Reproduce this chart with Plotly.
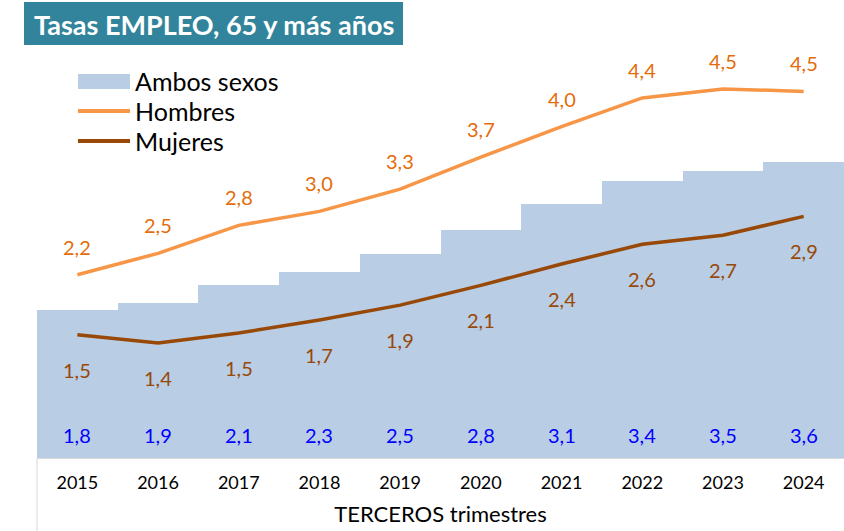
import plotly.graph_objects as go

# data (values as shown, positions estimated from the chart)
years = ['2015', '2016', '2017', '2018', '2019', '2020', '2021', '2022', '2023', '2024']
ambos = [1.80, 1.89, 2.10, 2.26, 2.48, 2.77, 3.09, 3.37, 3.49, 3.60]
hombres = [2.23, 2.49, 2.83, 3.00, 3.27, 3.66, 4.03, 4.38, 4.49, 4.46]
mujeres = [1.50, 1.40, 1.52, 1.68, 1.86, 2.10, 2.36, 2.60, 2.71, 2.94]

title_text = 'Tasas EMPLEO, 65 y más años'
x_title = 'TERCEROS trimestres'
legend_names = ['Ambos sexos', 'Hombres', 'Mujeres']

FONT = 'Lato'
C_BAR = '#B9CDE5'
C_HOM = '#F79646'
C_HOM_TXT = '#E46C0A'
C_MUJ = '#984807'
C_AMB_TXT = '#0000FF'
C_TITLE = '#31849B'

W, H = 844, 531
ML, MR, MT, MB = 37, 0, 0, 73
PLOT_W = W - ML - MR
PLOT_H = H - MT - MB
PX_PER_UNIT = 82.2


def px(x):
    return (x - ML) / PLOT_W


def py(y):
    return (H - MB - y) / PLOT_H


def fmt(v):
    return f'{v:.1f}'.replace('.', ',')


fig = go.Figure()
fig.add_trace(go.Bar(x=years, y=ambos, marker=dict(color=C_BAR, line_width=0),
                     name=legend_names[0], hoverinfo='skip'))
fig.add_trace(go.Scatter(x=years, y=hombres, mode='lines', name=legend_names[1],
                         line=dict(color=C_HOM, width=3.5)))
fig.add_trace(go.Scatter(x=years, y=mujeres, mode='lines', name=legend_names[2],
                         line=dict(color=C_MUJ, width=3.5)))

# value labels; x is the category index on the category axis
annotations = []
for i, (a, h, m) in enumerate(zip(ambos, hombres, mujeres)):
    annotations.append(dict(x=i, y=h, text=fmt(h), showarrow=False, yshift=28,
                            font=dict(family=FONT, size=20, color=C_HOM_TXT)))
    annotations.append(dict(x=i, y=m, text=fmt(m), showarrow=False, yshift=-35,
                            font=dict(family=FONT, size=20, color=C_MUJ)))
    annotations.append(dict(x=i, y=0, text=fmt(a), showarrow=False, yshift=23,
                            font=dict(family=FONT, size=20, color=C_AMB_TXT)))

shapes = [
    # title box
    dict(type='rect', xref='paper', yref='paper', x0=px(24), x1=px(403), y0=py(45), y1=py(2),
         fillcolor=C_TITLE, line_width=0, layer='above'),
    # left border below the axis
    dict(type='line', xref='paper', yref='paper', x0=0, x1=0, y0=0, y1=py(H),
         line=dict(color='#D9D9D9', width=1)),
    # legend swatches
    dict(type='rect', xref='paper', yref='paper', x0=px(78), x1=px(130), y0=py(89), y1=py(74),
         fillcolor=C_BAR, line_width=0, layer='above'),
    dict(type='line', xref='paper', yref='paper', x0=px(78), x1=px(130), y0=py(111), y1=py(111),
         line=dict(color=C_HOM, width=4), layer='above'),
    dict(type='line', xref='paper', yref='paper', x0=px(78), x1=px(130), y0=py(141), y1=py(141),
         line=dict(color=C_MUJ, width=4), layer='above'),
]
annotations.append(dict(xref='paper', yref='paper', x=px(213.5), y=py(24), text=f'<b>{title_text}</b>',
                        showarrow=False, xanchor='center', yanchor='middle',
                        font=dict(family=FONT, size=27, color='white')))
for name, ypix in zip(legend_names, [81, 111, 141]):
    annotations.append(dict(xref='paper', yref='paper', x=px(133), y=py(ypix), text=name,
                            showarrow=False, xanchor='left', yanchor='middle',
                            font=dict(family=FONT, size=25, color='black')))

fig.update_layout(
    width=W, height=H,
    margin=dict(l=ML, r=MR, t=MT, b=MB, autoexpand=False),
    plot_bgcolor='white', paper_bgcolor='white',
    bargap=0, showlegend=False,
    font=dict(family=FONT, color='black'),
    xaxis=dict(type='category', range=[-0.5, len(years) - 0.5],
               showline=True, linecolor='#D9D9D9', linewidth=1,
               ticks='outside', ticklen=8, tickcolor='rgba(0,0,0,0)',
               tickfont=dict(family=FONT, size=18, color='black'),
               title=dict(text=x_title, standoff=15, font=dict(family=FONT, size=22, color='black')),
               showgrid=False, fixedrange=True),
    yaxis=dict(range=[0, PLOT_H / PX_PER_UNIT], visible=False, fixedrange=True),
    shapes=shapes, annotations=annotations,
)

# drop the page's default body margin so the figure fills the window
fig.write_html('out.html', config={'displayModeBar': False},
               post_script="document.body.style.margin='0';")
